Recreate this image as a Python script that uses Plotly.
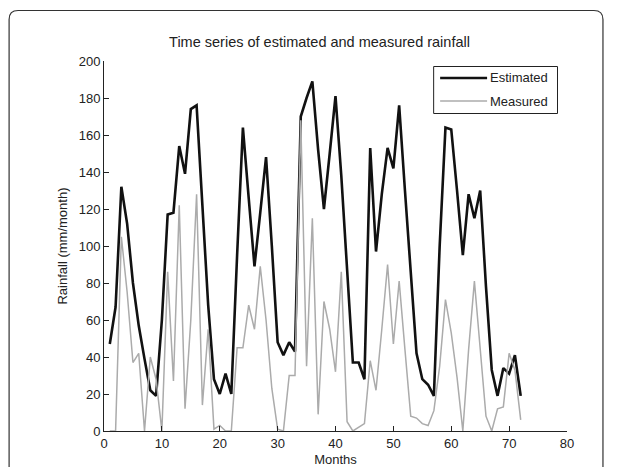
import plotly.graph_objects as go

months = list(range(1, 73))

estimated = [47, 67, 132, 112, 80, 57, 39, 22, 19, 60, 117, 118,
             154, 139, 174, 176, 122, 68, 28, 20, 31, 20, 95, 164,
             126, 89, 118, 148, 100, 48, 41, 48, 43, 170, 180, 189,
             152, 120, 150, 181, 138, 85, 37, 37, 28, 153, 97, 128,
             153, 142, 176, 130, 85, 42, 28, 25, 19, 100, 164, 163,
             130, 95, 128, 115, 130, 78, 33, 19, 34, 31, 41, 19]

measured = [0, 0, 105, 75, 37, 42, 0, 40, 28, 0, 86, 27,
            122, 12, 60, 128, 14, 55, 1, 3, 0, 0, 45, 45,
            68, 55, 89, 60, 23, 1, 0, 30, 30, 168, 35, 115,
            9, 70, 55, 32, 86, 5, 0, 2, 4, 38, 22, 55,
            90, 47, 81, 44, 8, 7, 4, 3, 11, 35, 71, 53,
            29, 0, 44, 81, 44, 8, 0, 12, 13, 42, 33, 6]

x_ticks = [0, 10, 20, 30, 40, 50, 60, 70, 80]
y_ticks = [0, 20, 40, 60, 80, 100, 120, 140, 160, 180, 200]

series_names = ["Estimated", "Measured"]
series_colors = ["#111111", "#ababab"]
series_widths = [2.6, 1.5]

FONT = "Liberation Sans, Arial, sans-serif"

# the page body adds an 8 px offset; work in window pixels and subtract it
OFF = 8.0
FW, FH = 627 - OFF, 467 - OFF
L, R, T, B = 103.5 - OFF, 567.0 - OFF, 61.0 - OFF, 431.0 - OFF
W, H = R - L, B - T


def px(x):
    return (x - OFF - L) / W


def py(y):
    return (B - (y - OFF)) / H


fig = go.Figure()
for name, vals, col, wid in zip(series_names, [estimated, measured], series_colors, series_widths):
    fig.add_trace(go.Scatter(x=months, y=vals, mode="lines", name=name,
                             line=dict(color=col, width=wid), showlegend=False))

# rounded outer frame
x0, y0, x1, y1, r = 8.5, 10.5, 603.0, 480.0, 9.0
path = (f"M {px(x0)},{py(y1)} L {px(x0)},{py(y0 + r)} "
        f"Q {px(x0)},{py(y0)} {px(x0 + r)},{py(y0)} "
        f"L {px(x1 - r)},{py(y0)} Q {px(x1)},{py(y0)} {px(x1)},{py(y0 + r)} "
        f"L {px(x1)},{py(y1)}")
fig.add_shape(type="path", xref="paper", yref="paper", path=path,
              line=dict(color="#333333", width=1.2), layer="below")

# legend box drawn as shapes + text
fig.add_shape(type="rect", xref="paper", yref="paper",
              x0=px(433.5), x1=px(557.5), y0=py(113.5), y1=py(66.5),
              line=dict(color="#222222", width=1), fillcolor="white", layer="above")
for i, (name, col, wid) in enumerate(zip(series_names, series_colors, series_widths)):
    yy = [78, 101][i]
    fig.add_shape(type="line", xref="paper", yref="paper",
                  x0=px(440), x1=px(487), y0=py(yy), y1=py(yy),
                  line=dict(color=col, width=wid), layer="above")
    fig.add_annotation(xref="paper", yref="paper", x=px(488), y=py(yy),
                       xanchor="left", yanchor="middle", showarrow=False,
                       text=name, font=dict(family=FONT, size=13, color="#222222"))

fig.update_layout(
    width=FW, height=FH,
    margin=dict(l=L, r=FW - R, t=T, b=FH - B, autoexpand=False),
    paper_bgcolor="white", plot_bgcolor="white",
    font=dict(family=FONT, size=12, color="#222222"),
    title=dict(text="Time series of estimated and measured rainfall",
               x=(319.5 - OFF) / FW, xanchor="center", xref="container",
               y=1 - (42 - OFF) / FH, yanchor="middle", yref="container",
               font=dict(family=FONT, size=14.5, color="#222222")),
    showlegend=False,
    xaxis=dict(range=[0, 80], tickvals=x_ticks, ticktext=[str(v) for v in x_ticks],
               ticks="inside", ticklen=5, tickcolor="#222222",
               showline=True, linecolor="#222222", linewidth=1, mirror=False,
               showgrid=False, zeroline=False,
               title=dict(text="Months", standoff=8, font=dict(family=FONT, size=13)),
               tickfont=dict(family=FONT, size=13)),
    yaxis=dict(range=[0, 200], tickvals=y_ticks, ticktext=[str(v) for v in y_ticks],
               ticks="inside", ticklen=5, tickcolor="#222222",
               showline=True, linecolor="#222222", linewidth=1, mirror=False,
               showgrid=False, zeroline=False,
               title=dict(text="Rainfall (mm/month)", standoff=8, font=dict(family=FONT, size=13)),
               tickfont=dict(family=FONT, size=13)),
)

fig.write_html("out.html")
